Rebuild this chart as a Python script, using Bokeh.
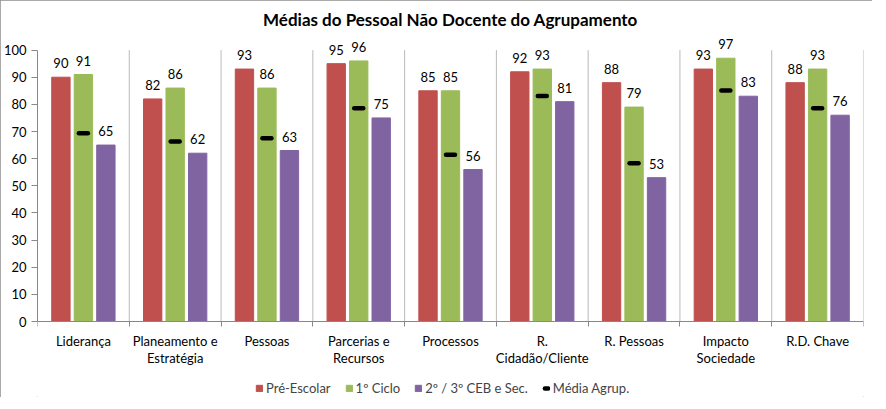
from bokeh.plotting import figure
from bokeh.models import ColumnDataSource, FixedTicker, Legend, LegendItem, Range1d
from bokeh.embed import file_html
from bokeh.resources import INLINE
from bokeh.core.properties import value

categories = ["Liderança", "Planeamento e\nEstratégia", "Pessoas", "Parcerias e\nRecursos",
              "Processos", "R.\nCidadão/Cliente", "R. Pessoas", "Impacto\nSociedade", "R.D. Chave"]
pre_escolar = [90, 82, 93, 95, 85, 92, 88, 93, 88]
ciclo1 = [91, 86, 86, 96, 85, 93, 79, 97, 93]
ceb_sec = [65, 62, 63, 75, 56, 81, 53, 83, 76]
media = [69.4, 66.3, 67.5, 78.6, 61.4, 83.1, 58.3, 85.1, 78.6]
series_names = ["Pré-Escolar", "1º Ciclo", "2º / 3º CEB e Sec.", "Média Agrup."]
y_ticks = list(range(0, 101, 10))

FONT = "Lato"
colors = ["#C0504D", "#9BBB59", "#8064A2"]
n = len(categories)
centers = [i + 0.5 for i in range(n)]
bounds = list(range(n + 1))
first_lines = [c.split("\n")[0] for c in categories]
second_lines = [c.split("\n")[1] if "\n" in c else "" for c in categories]

p = figure(frame_width=826, frame_height=361, x_range=Range1d(0, n), y_range=Range1d(-28, 105),
           output_backend="svg", toolbar_location=None,
           title="Médias do Pessoal Não Docente do Agrupamento")
p.styles = {"outline": "1px solid #8c8c8c", "outline-offset": "-1px"}
p.title.align = "center"
p.title.offset = -11
p.title.standoff = 13
p.title.text_font = FONT
p.title.text_font_style = "bold"
p.title.text_font_size = "17px"
p.title.text_color = "#000000"
p.outline_line_color = None
p.xgrid.visible = False
p.ygrid.visible = False
p.min_border_right = 9
p.min_border_left = 35
p.min_border_top = 30
p.min_border_bottom = 0

# category separators
p.segment(x0=bounds[1:], y0=[0] * n, x1=bounds[1:], y1=[100] * n,
          line_color="#BABABA", line_width=1)

renderers = []
offsets = [-0.245, 0.0, 0.245]
for vals, off, col in zip([pre_escolar, ciclo1, ceb_sec], offsets, colors):
    xs = [c + off for c in centers]
    src = ColumnDataSource(dict(x=xs, top=vals, lbl=[str(round(v)) for v in vals]))
    r = p.vbar(x="x", top="top", width=0.2, source=src, fill_color=col, line_color=col)
    renderers.append(r)
    p.text(x="x", y="top", text="lbl", source=src, text_align="center",
           text_baseline="bottom", y_offset=-9, text_font=value(FONT),
           text_font_size="13px", text_color="#000000")

msrc = ColumnDataSource(dict(x=centers, y=media))
rm = p.scatter(x="x", y="y", source=msrc, marker="dash", size=9,
               line_width=4.5, line_color="#000000", line_cap="round")
renderers.append(rm)

# category labels (two lines) under the axis
csrc = ColumnDataSource(dict(x=centers, y=[0] * n, l1=first_lines, l2=second_lines))
for col_name, off in (("l1", 19), ("l2", 36)):
    p.text(x="x", y="y", text=col_name, source=csrc, text_align="center",
           text_baseline="middle", y_offset=off, text_font=value(FONT),
           text_font_size="13px", text_color="#000000")

# x axis drawn at y = 0, ticks at category boundaries
p.xaxis.fixed_location = 0
p.xaxis.ticker = FixedTicker(ticks=centers, minor_ticks=bounds)
p.xaxis.major_label_overrides = {c: "" for c in centers}
p.xaxis.major_label_text_font_size = "0px"
p.xaxis.major_label_standoff = 0
p.xaxis.major_tick_out = 0
p.xaxis.major_tick_in = 0
p.xaxis.minor_tick_out = 5
p.xaxis.minor_tick_in = 0
p.xaxis.minor_tick_line_color = "#888888"
p.xaxis.axis_line_color = "#888888"

p.yaxis.ticker = FixedTicker(ticks=y_ticks)
p.yaxis.bounds = (0, 100)
p.yaxis.major_tick_out = 6
p.yaxis.major_tick_in = 0
p.yaxis.minor_tick_line_color = None
p.yaxis.major_tick_line_color = "#888888"
p.yaxis.axis_line_color = "#888888"
p.yaxis.major_label_text_font = FONT
p.yaxis.major_label_text_font_size = "13px"
p.yaxis.major_label_text_color = "#000000"
p.yaxis.major_label_standoff = 5

legend = Legend(items=[LegendItem(label=nm, renderers=[r]) for nm, r in zip(series_names, renderers)],
                orientation="horizontal", location=(218, 1))
legend.label_text_font = FONT
legend.label_text_font_size = "13px"
legend.glyph_width = 8
legend.glyph_height = 8
legend.label_standoff = 3
legend.spacing = 14
legend.border_line_color = None
legend.background_fill_alpha = 0
legend.padding = 2
legend.margin = 0
p.add_layout(legend)

open("out.html", "w").write(file_html(p, INLINE))
